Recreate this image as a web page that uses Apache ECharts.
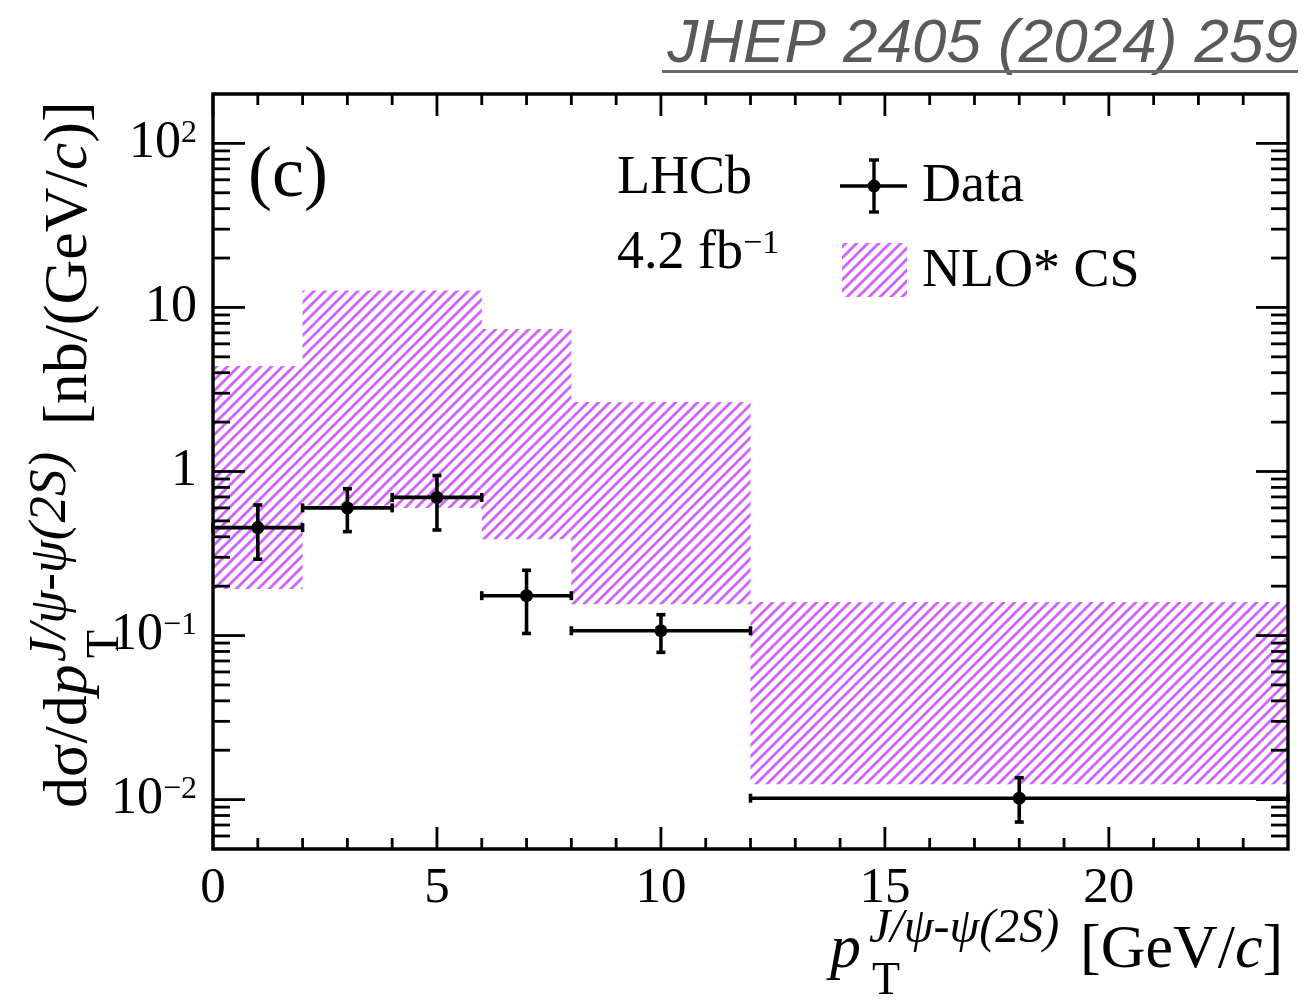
<!DOCTYPE html>
<html>
<head>
<meta charset="utf-8">
<script src="https://cdn.jsdelivr.net/npm/echarts@6/dist/echarts.min.js"></script>
<style>
  html, body { margin: 0; padding: 0; background: #fff; }
  #chart { width: 1305px; height: 1001px; }
</style>
</head>
<body>
<div id="chart"></div>
<script>
// pT^{J/psi-psi(2S)} bins [GeV/c]
const binLow    = [0, 2, 4, 6, 8, 12];
const binHigh   = [2, 4, 6, 8, 12, 24];
const binCentre = [1, 3, 5, 7, 10, 18];

// Measured dsigma/dpT [nb/(GeV/c)] and the ends of its error bars
const dataValue = [0.455, 0.600, 0.695, 0.175, 0.107, 0.0102];
const dataUpper = [0.625, 0.785, 0.945, 0.250, 0.134, 0.0136];
const dataLower = [0.292, 0.430, 0.440, 0.103, 0.079, 0.0073];

// NLO* colour-singlet prediction: lower and upper edge in each bin
const nloLower = [0.192, 0.62, 0.60, 0.387, 0.155, 0.0124];
const nloUpper = [4.4, 12.7, 12.7, 7.4, 2.65, 0.160];

// Axis ranges and ticks
const X_MIN = 0, X_MAX = 24;
const Y_MIN = 0.005, Y_MAX = 200;
const xMajorTicks = [0, 5, 10, 15, 20];
const xTickLabels = ['0', '5', '10', '15', '20'];
const xMinorTicks = [1, 2, 3, 4, 6, 7, 8, 9, 11, 12, 13, 14, 16, 17, 18, 19, 21, 22, 23];
const yMajorTicks = [0.01, 0.1, 1, 10, 100];
const yTickLabels = ['10{e|\u22122}', '10{e|\u22121}', '1', '10', '10{e|2}'];
const yMinorTicks = [
  0.006, 0.007, 0.008, 0.009,
  0.02, 0.03, 0.04, 0.05, 0.06, 0.07, 0.08, 0.09,
  0.2, 0.3, 0.4, 0.5, 0.6, 0.7, 0.8, 0.9,
  2, 3, 4, 5, 6, 7, 8, 9,
  20, 30, 40, 50, 60, 70, 80, 90
];

const SERIF = '"Liberation Serif", "Times New Roman", serif';
const HATCH_COLOR = '#d062ff';

// Diagonal "////" hatch used for the theory band
function makeHatch() {
  const s = 11;
  const c = document.createElement('canvas');
  c.width = s; c.height = s;
  const g = c.getContext('2d');
  g.strokeStyle = HATCH_COLOR;
  g.lineWidth = 2.8;
  g.beginPath();
  g.moveTo(-3, s + 3); g.lineTo(s + 3, -3);
  g.moveTo(-3, 3); g.lineTo(3, -3);
  g.moveTo(s - 3, s + 3); g.lineTo(s + 3, s - 3);
  g.stroke();
  return c;
}
const hatchFill = { type: 'pattern', image: makeHatch(), repeat: 'repeat' };

// Text placed by its baseline
function txt(x, baseline, text, size, extra) {
  const st = Object.assign({
    text: text,
    fill: '#000',
    font: size + 'px ' + SERIF,
    align: 'left', textAlign: 'left',
    verticalAlign: 'middle', textVerticalAlign: 'middle'
  }, extra || {});
  return { type: 'text', x: x, y: baseline - 0.34 * size, style: st };
}
const italic = (size) => ({ fontStyle: 'italic', fontSize: size, fontFamily: SERIF, fill: '#000' });

const chart = echarts.init(document.getElementById('chart'), null, { renderer: 'canvas' });

const bandData = binLow.map((lo, i) => [lo, binHigh[i], nloLower[i], nloUpper[i]]);
const pointData = binCentre.map((c, i) => [c, dataValue[i], binLow[i], binHigh[i], dataLower[i], dataUpper[i]]);
const xTickData = xMajorTicks.map((v, i) => [v, Y_MIN, 1, i])
  .concat(xMinorTicks.map(v => [v, Y_MIN, 0, -1]));
const yTickData = yMajorTicks.map((v, i) => [X_MIN, v, 1, i])
  .concat(yMinorTicks.map(v => [X_MIN, v, 0, -1]));

const black = { stroke: '#000', lineWidth: 2.8 };

function renderBand(params, api) {
  const tl = api.coord([api.value(0), api.value(3)]);
  const br = api.coord([api.value(1), api.value(2)]);
  return {
    type: 'rect',
    shape: { x: tl[0], y: tl[1], width: br[0] - tl[0], height: br[1] - tl[1] },
    style: { fill: hatchFill }
  };
}

function renderPoint(params, api) {
  const p = api.coord([api.value(0), api.value(1)]);
  const xl = api.coord([api.value(2), api.value(1)])[0];
  const xh = api.coord([api.value(3), api.value(1)])[0];
  const yl = api.coord([api.value(0), api.value(4)])[1];
  const yh = api.coord([api.value(0), api.value(5)])[1];
  const cap = 4.5;
  const ln = (x1, y1, x2, y2) => ({ type: 'line', shape: { x1, y1, x2, y2 }, style: { stroke: '#000', lineWidth: 3.6 } });
  return {
    type: 'group',
    children: [
      ln(xl, p[1], xh, p[1]),
      ln(p[0], yl, p[0], yh),
      ln(xl, p[1] - cap, xl, p[1] + cap),
      ln(xh, p[1] - cap, xh, p[1] + cap),
      ln(p[0] - cap, yl, p[0] + cap, yl),
      ln(p[0] - cap, yh, p[0] + cap, yh),
      { type: 'circle', shape: { cx: p[0], cy: p[1], r: 6.5 }, style: { fill: '#000' } }
    ]
  };
}

function renderXTick(params, api) {
  const v = api.value(0), major = api.value(2) === 1, li = api.value(3);
  const b = api.coord([v, Y_MIN]);
  const t = api.coord([v, Y_MAX]);
  const len = major ? 22 : 11;
  const children = [
    { type: 'line', shape: { x1: b[0], y1: b[1], x2: b[0], y2: b[1] - len }, style: black },
    { type: 'line', shape: { x1: t[0], y1: t[1], x2: t[0], y2: t[1] + len }, style: black }
  ];
  if (major) {
    children.push({
      type: 'text', x: b[0], y: b[1] + 40,
      style: {
        text: xTickLabels[li], fill: '#000', font: '51px ' + SERIF,
        align: 'center', textAlign: 'center', verticalAlign: 'middle', textVerticalAlign: 'middle'
      }
    });
  }
  return { type: 'group', children: children };
}

function renderYTick(params, api) {
  const v = api.value(1), major = api.value(2) === 1, li = api.value(3);
  const l = api.coord([X_MIN, v]);
  const r = api.coord([X_MAX, v]);
  const len = major ? 32 : 17;
  const children = [
    { type: 'line', shape: { x1: l[0], y1: l[1], x2: l[0] + len, y2: l[1] }, style: black },
    { type: 'line', shape: { x1: r[0], y1: r[1], x2: r[0] - len, y2: r[1] }, style: black }
  ];
  if (major) {
    children.push({
      type: 'text', x: l[0] - 16, y: l[1],
      style: {
        text: yTickLabels[li], fill: '#000', font: '52px ' + SERIF,
        align: 'right', textAlign: 'right', verticalAlign: 'middle', textVerticalAlign: 'middle',
        rich: { e: { fontSize: 32, fontFamily: SERIF, fill: '#000', verticalAlign: 'top' } }
      }
    });
  }
  return { type: 'group', children: children };
}

function renderFrame(params, api) {
  const tl = api.coord([X_MIN, Y_MAX]);
  const br = api.coord([X_MAX, Y_MIN]);
  return {
    type: 'rect',
    shape: { x: tl[0], y: tl[1], width: br[0] - tl[0], height: br[1] - tl[1] },
    style: { fill: null, stroke: '#000', lineWidth: 3.4 }
  };
}

// Axis titles and annotations
const yTitle = {
  type: 'group', x: 91, y: 808, rotation: Math.PI / 2,
  children: [
    txt(0, 0, '{n|d\u03c3/d}{i|p}', 62, { rich: { n: { fontSize: 62, fontFamily: SERIF, fill: '#000' }, i: italic(62) } }),
    txt(146, -22, 'J/\u03c8-\u03c8(2S)', 53, { font: 'italic 53px ' + SERIF }),
    txt(150, 31, 'T', 46),
    txt(383, 0, '[nb/(GeV/{i|c})]', 62, { rich: { i: italic(62) } })
  ]
};

const graphics = [
  // journal reference
  {
    type: 'text', x: 1298, y: 66 - 0.35 * 62,
    style: {
      text: 'JHEP 2405 (2024) 259', fill: '#5a5a5a',
      font: 'italic 62px "Liberation Sans", Arial, sans-serif',
      align: 'right', textAlign: 'right', verticalAlign: 'middle', textVerticalAlign: 'middle'
    }
  },
  { type: 'rect', shape: { x: 662, y: 70, width: 636, height: 3 }, style: { fill: '#6a6a6a' } },

  txt(248, 202, '(c)', 72),
  txt(617, 197, 'LHCb', 54),
  txt(617, 272, '4.2 fb{e|\u22121}', 54, { rich: { e: { fontSize: 34, fontFamily: SERIF, fill: '#000', verticalAlign: 'top' } } }),

  // legend: data marker
  { type: 'line', shape: { x1: 840, y1: 186, x2: 907, y2: 186 }, style: { stroke: '#000', lineWidth: 3.4 } },
  { type: 'line', shape: { x1: 874, y1: 160, x2: 874, y2: 212 }, style: { stroke: '#000', lineWidth: 3.4 } },
  { type: 'line', shape: { x1: 869, y1: 160, x2: 879, y2: 160 }, style: { stroke: '#000', lineWidth: 3.4 } },
  { type: 'line', shape: { x1: 869, y1: 212, x2: 879, y2: 212 }, style: { stroke: '#000', lineWidth: 3.4 } },
  { type: 'circle', shape: { cx: 874, cy: 186, r: 6.5 }, style: { fill: '#000' } },
  txt(922, 205, 'Data', 54),
  // legend: theory band
  { type: 'rect', shape: { x: 842, y: 243, width: 65, height: 54 }, style: { fill: hatchFill } },
  txt(922, 290, 'NLO* CS', 54),

  // x-axis title
  txt(830, 972, 'p', 62, { font: 'italic 62px ' + SERIF }),
  txt(869, 946, 'J/\u03c8-\u03c8(2S)', 48, { font: 'italic 48px ' + SERIF }),
  txt(872, 998, 'T', 46),
  txt(1080, 972, '[GeV/{i|c}]', 62, { rich: { i: italic(62) } }),

  yTitle
];

chart.setOption({
  animation: false,
  backgroundColor: '#fff',
  grid: { left: 213, right: 17, top: 94, bottom: 152, show: false },
  xAxis: { type: 'value', min: X_MIN, max: X_MAX, show: false },
  yAxis: { type: 'log', logBase: 10, min: Y_MIN, max: Y_MAX, show: false },
  series: [
    { type: 'custom', name: 'NLO* CS', renderItem: renderBand, data: bandData,
      encode: { x: [0, 1], y: [2, 3] }, z: 1, silent: true },
    { type: 'custom', name: 'Data', renderItem: renderPoint, data: pointData,
      encode: { x: [0, 2, 3], y: [1, 4, 5] }, z: 5, silent: true },
    { type: 'custom', renderItem: renderXTick, data: xTickData,
      encode: { x: 0, y: 1 }, z: 6, silent: true },
    { type: 'custom', renderItem: renderYTick, data: yTickData,
      encode: { x: 0, y: 1 }, z: 6, silent: true },
    { type: 'custom', renderItem: renderFrame, data: [[X_MIN, Y_MIN]],
      encode: { x: 0, y: 1 }, z: 7, silent: true }
  ],
  graphic: graphics
});
</script>
</body>
</html>
